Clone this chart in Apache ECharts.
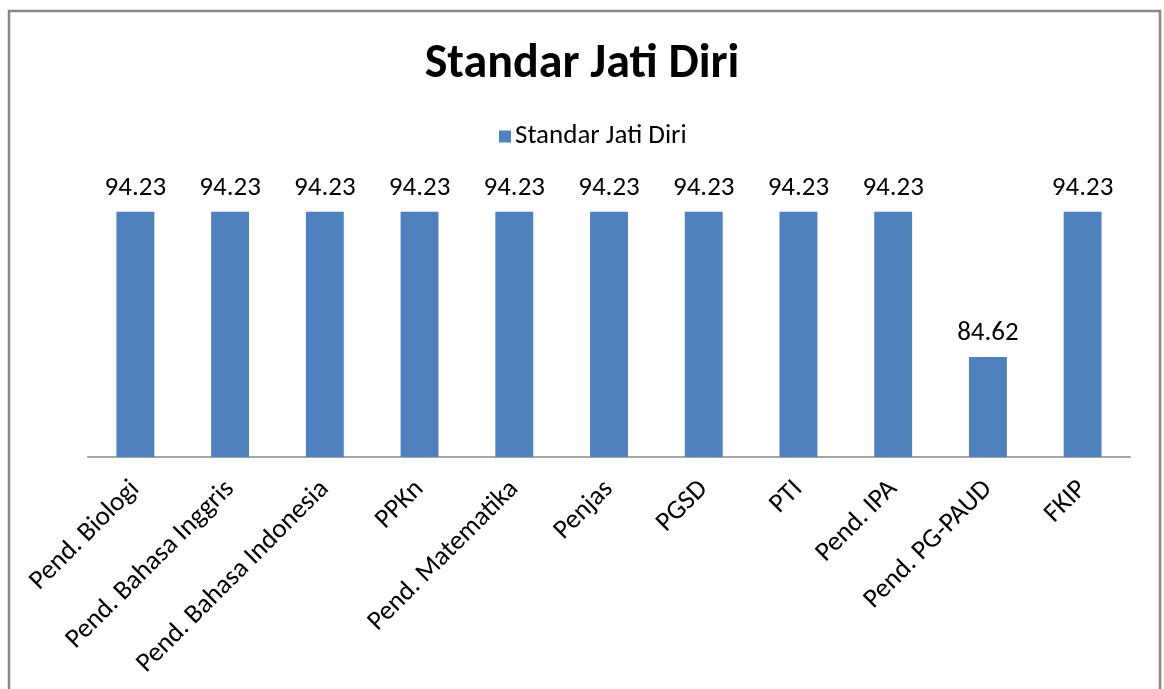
<!DOCTYPE html>
<html>
<head>
<meta charset="utf-8">
<script src="https://cdn.jsdelivr.net/npm/echarts@6/dist/echarts.min.js"></script>
<style>
html,body{margin:0;padding:0;background:#fff;}
#main{width:1164px;height:689px;}
</style>
</head>
<body>
<div id="main"></div>
<script>
const categories = ['Pend. Biologi','Pend. Bahasa Inggris','Pend. Bahasa Indonesia','PPKn','Pend. Matematika','Penjas','PGSD','PTI','Pend. IPA','Pend. PG-PAUD','FKIP'];
const values = [94.23,94.23,94.23,94.23,94.23,94.23,94.23,94.23,94.23,84.62,94.23];
const seriesName = 'Standar Jati Diri';
const titleText = 'Standar Jati Diri';

const chart = echarts.init(document.getElementById('main'), null, {renderer:'canvas'});
const font = 'Carlito, Lato, "Open Sans", sans-serif';
chart.setOption({
  animation:false,
  title:{text:titleText,left:'center',top:36,textStyle:{fontFamily:font,fontSize:48,fontWeight:'bold',color:'#000'}},
  legend:{data:[seriesName],top:118,left:494,itemWidth:12,itemHeight:12,icon:'rect',itemGap:6,
    textStyle:{fontFamily:font,fontSize:27,color:'#000',padding:[0,0,0,-1]}},
  graphic:[{type:'rect',shape:{x:9,y:11,width:1151,height:700},style:{fill:'none',stroke:'#888',lineWidth:2.5},silent:true}],
  grid:{left:88,right:34,top:185,bottom:232,containLabel:false},
  xAxis:{type:'category',data:categories,
    axisLine:{lineStyle:{color:'#a6a6a6',width:2}},axisTick:{show:false},
    axisLabel:{rotate:45,interval:0,margin:28,verticalAlign:'middle',fontFamily:font,fontSize:27,color:'#000'}},
  yAxis:{type:'value',min:78,max:96,show:false,splitLine:{show:false}},
  series:[{name:seriesName,type:'bar',data:values,barWidth:'40%',
    itemStyle:{color:'#4f81bd'},
    label:{show:true,position:'top',distance:10,fontFamily:font,fontSize:27,color:'#000',formatter:p=>p.value.toFixed(2)}}]
});
</script>
</body>
</html>
